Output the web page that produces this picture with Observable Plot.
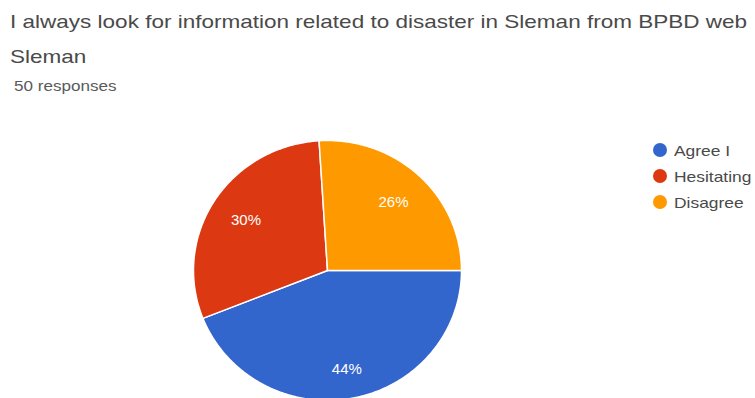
<!DOCTYPE html>
<html><head><meta charset="utf-8">
<script src="https://cdn.jsdelivr.net/npm/d3@7"></script>
<script src="https://cdn.jsdelivr.net/npm/@observablehq/plot@0.6"></script>
<style>
body{margin:0;background:#fff;font-family:"Liberation Sans",Arial,sans-serif;overflow:hidden;width:755px;height:398px;position:relative}
#title{position:absolute;left:10px;top:4px;font-size:19px;color:#4a4a4a;line-height:35px;white-space:nowrap;transform:scaleX(1.185);transform-origin:0 0}
#sub{position:absolute;left:14px;top:78px;font-size:14px;color:#5a5a5a;white-space:nowrap;transform:scaleX(1.22);transform-origin:0 0}
#chart{position:absolute;left:0;top:100px}
#legend{position:absolute;left:653px;top:137px;font-size:15px;color:#4a4a4a}
.item{display:flex;align-items:center;height:26px;white-space:nowrap}
.sw{width:14px;height:14px;border-radius:50%;margin-right:7px;flex:none}
.lt{display:inline-block;transform:scaleX(1.16);transform-origin:0 50%}
</style></head>
<body>
<div id="title"></div>
<div id="sub"></div>
<div id="chart"></div>
<div id="legend"></div>
<script>
const titleLines = ["I always look for information related to disaster in Sleman from BPBD web", "Sleman"];
const subtitle = "50 responses";
const categories = ["Agree I", "Hesitating", "Disagree"];
const percents = [44, 30, 26];
const colors = ["#3366cc", "#dc3912", "#ff9900"];

document.getElementById("title").innerHTML = titleLines.join("<br>");
document.getElementById("sub").textContent = subtitle;

const data = categories.map((c, i) => ({cat: c, value: percents[i]}));
const arcs = d3.pie().sort(null).value(d => d.value)
  .startAngle(Math.PI / 2).endAngle(Math.PI / 2 + 2 * Math.PI)(data);

const pts = [];
const labels = [];
for (const a of arcs) {
  pts.push({cat: a.data.cat, x: 0, y: 0});
  const n = Math.max(2, Math.ceil((a.endAngle - a.startAngle) / 0.01));
  for (let k = 0; k <= n; k++) {
    const t = a.startAngle + (a.endAngle - a.startAngle) * k / n;
    pts.push({cat: a.data.cat, x: Math.sin(t), y: Math.cos(t)});
  }
  const m = (a.startAngle + a.endAngle) / 2;
  const lr = 0.72 + 0.05 * Math.max(0, -Math.cos(m));
  labels.push({x: lr * Math.sin(m), y: lr * Math.cos(m), text: a.data.value + "%"});
}

const W = 755, H = 298, cx = 327, cy = 170, rx = 134, ry = 130;
const chart = Plot.plot({
  width: W, height: H, margin: 0,
  style: {background: "transparent", overflow: "visible"},
  x: {domain: [-cx / rx, (W - cx) / rx], axis: null},
  y: {domain: [-(H - cy) / ry, cy / ry], axis: null},
  color: {domain: categories, range: colors},
  marks: [
    Plot.line(pts, {x: "x", y: "y", z: "cat", fill: "cat", stroke: "white", strokeWidth: 1.5, curve: "linear-closed"}),
    Plot.text(labels, {x: "x", y: "y", text: "text", fill: "white", fontSize: 15, fontFamily: "Liberation Sans, Arial, sans-serif"})
  ]
});
document.getElementById("chart").appendChild(chart);

const leg = document.getElementById("legend");
categories.forEach((c, i) => {
  const it = document.createElement("div");
  it.className = "item";
  it.innerHTML = `<span class="sw" style="background:${colors[i]}"></span><span class="lt">${c}</span>`;
  leg.appendChild(it);
});
</script>
</body></html>
